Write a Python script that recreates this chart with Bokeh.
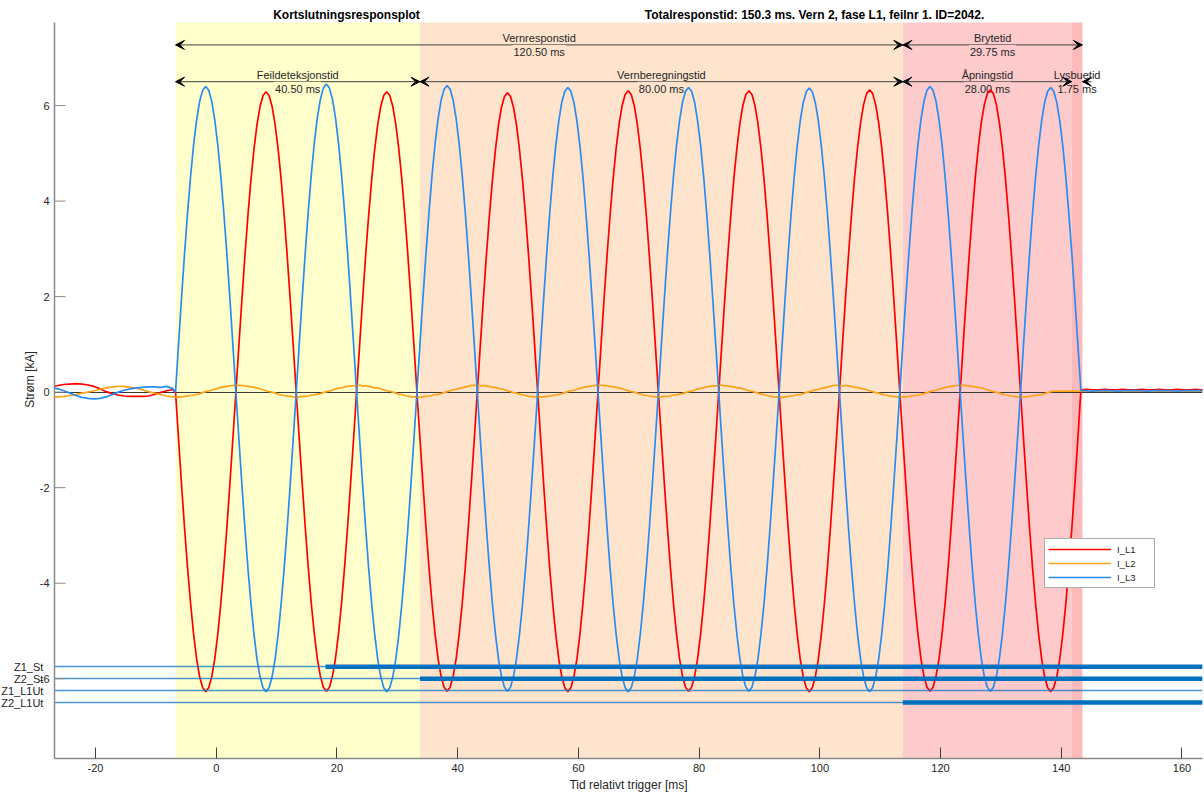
import numpy as np
from bokeh.plotting import figure
from bokeh.models import (ColumnDataSource, BoxAnnotation, Arrow, VeeHead, Label,
                          FixedTicker, Legend, LegendItem, Range1d, AllLabels)
from bokeh.embed import file_html
from bokeh.resources import INLINE

FONT = "Liberation Sans"

# ---------------- data ----------------
# pre-fault (1 ms sampling), fault (0.5 ms sampling), post-fault (1 ms sampling)
t_pre = [-26.8, -26.25, -25.25, -24.25, -23.25, -22.25, -21.25, -20.25, -19.25, -18.25, -17.25,
         -16.25, -15.25, -14.25, -13.25, -12.25, -11.25, -10.25, -9.25, -8.25, -7.25]
fault_start_ms = -6.75
fault_step_ms = 0.5
post_start_ms = 143.25
post_step_ms = 1.0

i_L1_pre = [0.13, 0.14, 0.16, 0.17, 0.18, 0.17, 0.15, 0.12, 0.07, 0.01, -0.03,
            -0.06, -0.08, -0.09, -0.09, -0.09, -0.08, -0.05, -0.01, 0.03, 0.05]
i_L1_fault = [
    0.00, -0.98, -1.94, -2.85, -3.69, -4.43, -5.07, -5.59, -5.96, -6.19, -6.27, -6.19, -5.96, -5.59, -5.07, -4.43, -3.69, -2.85, -1.94, -0.98,
    0.00, 0.98, 1.94, 2.86, 3.70, 4.45, 5.09, 5.60, 5.98, 6.21, 6.29, 6.21, 5.98, 5.60, 5.09, 4.45, 3.70, 2.86, 1.94, 0.98,
    0.00, -0.98, -1.93, -2.84, -3.68, -4.43, -5.06, -5.58, -5.95, -6.18, -6.26, -6.18, -5.95, -5.58, -5.06, -4.43, -3.68, -2.84, -1.93, -0.98,
    0.00, 0.98, 1.94, 2.86, 3.70, 4.45, 5.09, 5.60, 5.98, 6.21, 6.29, 6.21, 5.98, 5.60, 5.09, 4.45, 3.70, 2.86, 1.94, 0.98,
    0.00, -0.98, -1.93, -2.84, -3.68, -4.43, -5.06, -5.58, -5.95, -6.18, -6.26, -6.18, -5.95, -5.58, -5.06, -4.43, -3.68, -2.84, -1.93, -0.98,
    0.00, 0.98, 1.94, 2.85, 3.69, 4.43, 5.07, 5.59, 5.96, 6.19, 6.27, 6.19, 5.96, 5.59, 5.07, 4.43, 3.69, 2.85, 1.94, 0.98,
    0.00, -0.98, -1.94, -2.85, -3.69, -4.43, -5.07, -5.59, -5.96, -6.19, -6.27, -6.19, -5.96, -5.59, -5.07, -4.43, -3.69, -2.85, -1.94, -0.98,
    0.00, 0.98, 1.95, 2.86, 3.71, 4.46, 5.10, 5.62, 6.00, 6.23, 6.31, 6.23, 6.00, 5.62, 5.10, 4.46, 3.71, 2.86, 1.95, 0.98,
    0.00, -0.98, -1.93, -2.84, -3.68, -4.43, -5.06, -5.58, -5.95, -6.18, -6.26, -6.18, -5.95, -5.58, -5.06, -4.43, -3.68, -2.84, -1.93, -0.98,
    0.00, 0.98, 1.95, 2.86, 3.71, 4.46, 5.10, 5.62, 6.00, 6.23, 6.31, 6.23, 6.00, 5.62, 5.10, 4.46, 3.71, 2.86, 1.95, 0.98,
    0.00, -0.98, -1.94, -2.85, -3.69, -4.43, -5.07, -5.59, -5.96, -6.19, -6.27, -6.19, -5.96, -5.59, -5.07, -4.43, -3.69, -2.85, -1.94, -0.98,
    0.00, 0.99, 1.96, 2.87, 3.72, 4.48, 5.12, 5.64, 6.02, 6.25, 6.33, 6.25, 6.02, 5.64, 5.12, 4.48, 3.72, 2.87, 1.96, 0.99,
    0.00, -0.98, -1.93, -2.84, -3.68, -4.43, -5.06, -5.58, -5.95, -6.18, -6.26, -6.18, -5.95, -5.58, -5.06, -4.43, -3.68, -2.84, -1.93, -0.98,
    0.00, 0.99, 1.96, 2.87, 3.72, 4.48, 5.12, 5.64, 6.02, 6.25, 6.33, 6.25, 6.02, 5.64, 5.12, 4.48, 3.72, 2.87, 1.96, 0.99,
    0.00, -0.98, -1.94, -2.85, -3.69, -4.43, -5.07, -5.59, -5.96, -6.19, -6.27, -6.19, -5.96, -5.59, -5.07, -4.43, -3.69, -2.85, -1.94, -0.98,
]
i_L1_post = [0.05, 0.06, 0.05, 0.05, 0.06, 0.05, 0.05, 0.06, 0.05, 0.05, 0.06,
             0.05, 0.05, 0.06, 0.05, 0.05, 0.06, 0.05, 0.05, 0.06, 0.05, 0.05]

i_L2_pre = [-0.11, -0.10, -0.09, -0.07, -0.05, -0.02, 0.00, 0.03, 0.06, 0.09, 0.11,
            0.12, 0.12, 0.10, 0.08, 0.05, 0.01, -0.02, -0.05, -0.08, -0.10]
i_L2_fault = [
    -0.10, -0.10, -0.10, -0.09, -0.08, -0.07, -0.06, -0.05, -0.03, -0.01, 0.01, 0.03, 0.04, 0.06, 0.08, 0.10, 0.11, 0.12, 0.13, 0.14,
    0.14, 0.14, 0.14, 0.13, 0.12, 0.11, 0.10, 0.09, 0.07, 0.05, 0.03, 0.01, 0.00, -0.02, -0.04, -0.06, -0.07, -0.08, -0.09, -0.10,
    -0.11, -0.10, -0.09, -0.09, -0.08, -0.06, -0.06, -0.04, -0.03, -0.01, 0.01, 0.02, 0.04, 0.07, 0.08, 0.09, 0.11, 0.12, 0.13, 0.13,
    0.14, 0.15, 0.13, 0.13, 0.12, 0.11, 0.09, 0.09, 0.07, 0.05, 0.03, 0.02, 0.00, -0.02, -0.04, -0.05, -0.07, -0.08, -0.10, -0.10,
    -0.10, -0.11, -0.10, -0.09, -0.08, -0.07, -0.05, -0.05, -0.03, -0.01, 0.01, 0.03, 0.05, 0.06, 0.08, 0.09, 0.11, 0.12, 0.14, 0.14,
    0.14, 0.13, 0.14, 0.13, 0.12, 0.10, 0.10, 0.08, 0.07, 0.05, 0.03, 0.01, -0.01, -0.02, -0.04, -0.06, -0.07, -0.09, -0.09, -0.10,
    -0.10, -0.10, -0.10, -0.09, -0.08, -0.07, -0.06, -0.05, -0.03, -0.01, 0.01, 0.03, 0.04, 0.06, 0.08, 0.10, 0.11, 0.12, 0.13, 0.14,
    0.14, 0.14, 0.14, 0.13, 0.12, 0.11, 0.10, 0.09, 0.07, 0.05, 0.03, 0.01, 0.00, -0.02, -0.04, -0.06, -0.07, -0.08, -0.09, -0.10,
    -0.11, -0.10, -0.09, -0.09, -0.08, -0.06, -0.06, -0.04, -0.03, -0.01, 0.01, 0.02, 0.04, 0.07, 0.08, 0.09, 0.11, 0.12, 0.13, 0.13,
    0.14, 0.15, 0.13, 0.13, 0.12, 0.11, 0.09, 0.09, 0.07, 0.05, 0.03, 0.02, 0.00, -0.02, -0.04, -0.05, -0.07, -0.08, -0.10, -0.10,
    -0.10, -0.11, -0.10, -0.09, -0.08, -0.07, -0.05, -0.05, -0.03, -0.01, 0.01, 0.03, 0.05, 0.06, 0.08, 0.09, 0.11, 0.12, 0.14, 0.14,
    0.14, 0.13, 0.14, 0.13, 0.12, 0.10, 0.10, 0.08, 0.07, 0.05, 0.03, 0.01, -0.01, -0.02, -0.04, -0.06, -0.07, -0.09, -0.09, -0.10,
    -0.10, -0.10, -0.10, -0.09, -0.08, -0.07, -0.06, -0.05, -0.03, -0.01, 0.01, 0.03, 0.04, 0.06, 0.08, 0.10, 0.11, 0.12, 0.13, 0.14,
    0.14, 0.14, 0.14, 0.13, 0.12, 0.11, 0.10, 0.09, 0.07, 0.05, 0.03, 0.01, 0.00, -0.02, -0.04, -0.06, -0.07, -0.08, -0.09, -0.10,
    -0.10, -0.10, -0.10, -0.09, -0.08, -0.07, -0.06, -0.05, -0.03, -0.01, 0.01, 0.02, 0.02, 0.02, 0.02, 0.02, 0.02, 0.02, 0.02, 0.02,
]
i_L2_post = [0.02, 0.02, 0.02, 0.02, 0.02, 0.02, 0.02, 0.02, 0.02, 0.02, 0.02,
             0.02, 0.02, 0.02, 0.02, 0.02, 0.02, 0.02, 0.02, 0.02, 0.02, 0.02]

i_L3_pre = [0.09, 0.07, 0.03, -0.02, -0.07, -0.11, -0.13, -0.14, -0.13, -0.10, -0.05,
            0.00, 0.04, 0.07, 0.09, 0.10, 0.11, 0.11, 0.10, 0.12, 0.08]
i_L3_fault = [
    0.00, 1.00, 1.98, 2.91, 3.76, 4.52, 5.18, 5.70, 6.09, 6.32, 6.40, 6.32, 6.09, 5.70, 5.18, 4.52, 3.76, 2.91, 1.98, 1.00,
    0.00, -0.98, -1.94, -2.85, -3.69, -4.43, -5.07, -5.59, -5.96, -6.19, -6.27, -6.19, -5.96, -5.59, -5.07, -4.43, -3.69, -2.85, -1.94, -0.98,
    0.00, 1.01, 1.99, 2.93, 3.79, 4.56, 5.22, 5.75, 6.13, 6.37, 6.45, 6.37, 6.13, 5.75, 5.22, 4.56, 3.79, 2.93, 1.99, 1.01,
    0.00, -0.98, -1.94, -2.85, -3.69, -4.43, -5.07, -5.59, -5.96, -6.19, -6.27, -6.19, -5.96, -5.59, -5.07, -4.43, -3.69, -2.85, -1.94, -0.98,
    0.00, 1.00, 1.98, 2.91, 3.77, 4.54, 5.19, 5.72, 6.11, 6.34, 6.42, 6.34, 6.11, 5.72, 5.19, 4.54, 3.77, 2.91, 1.98, 1.00,
    0.00, -0.98, -1.93, -2.84, -3.68, -4.43, -5.06, -5.58, -5.95, -6.18, -6.26, -6.18, -5.95, -5.58, -5.06, -4.43, -3.68, -2.84, -1.93, -0.98,
    0.00, 1.00, 1.97, 2.90, 3.75, 4.51, 5.16, 5.68, 6.07, 6.30, 6.38, 6.30, 6.07, 5.68, 5.16, 4.51, 3.75, 2.90, 1.97, 1.00,
    0.00, -0.98, -1.94, -2.85, -3.69, -4.43, -5.07, -5.59, -5.96, -6.19, -6.27, -6.19, -5.96, -5.59, -5.07, -4.43, -3.69, -2.85, -1.94, -0.98,
    0.00, 1.00, 1.97, 2.90, 3.75, 4.51, 5.16, 5.68, 6.07, 6.30, 6.38, 6.30, 6.07, 5.68, 5.16, 4.51, 3.75, 2.90, 1.97, 1.00,
    0.00, -0.98, -1.93, -2.84, -3.68, -4.43, -5.06, -5.58, -5.95, -6.18, -6.26, -6.18, -5.95, -5.58, -5.06, -4.43, -3.68, -2.84, -1.93, -0.98,
    0.00, 0.99, 1.97, 2.89, 3.75, 4.50, 5.15, 5.68, 6.06, 6.29, 6.37, 6.29, 6.06, 5.68, 5.15, 4.50, 3.75, 2.89, 1.97, 0.99,
    0.00, -0.98, -1.94, -2.85, -3.69, -4.43, -5.07, -5.59, -5.96, -6.19, -6.27, -6.19, -5.96, -5.59, -5.07, -4.43, -3.69, -2.85, -1.94, -0.98,
    0.00, 1.00, 1.98, 2.91, 3.76, 4.52, 5.18, 5.70, 6.09, 6.32, 6.40, 6.32, 6.09, 5.70, 5.18, 4.52, 3.76, 2.91, 1.98, 1.00,
    0.00, -0.98, -1.93, -2.84, -3.68, -4.43, -5.06, -5.58, -5.95, -6.18, -6.26, -6.18, -5.95, -5.58, -5.06, -4.43, -3.68, -2.84, -1.93, -0.98,
    0.00, 1.00, 1.97, 2.90, 3.75, 4.51, 5.16, 5.68, 6.07, 6.30, 6.38, 6.30, 6.07, 5.68, 5.16, 4.51, 3.75, 2.90, 1.97, 1.00,
]
i_L3_post = [0.03, 0.03, 0.02, 0.03, 0.03, 0.03, 0.02, 0.03, 0.03, 0.03, 0.03,
             0.02, 0.03, 0.03, 0.03, 0.03, 0.02, 0.03, 0.03, 0.03, 0.03, 0.03]

series_names = ["I_L1", "I_L2", "I_L3"]
series_colors = ["#FF0000", "#FFA31A", "#2A8CF2"]

# time stages [ms]
stage_names = ["Feildeteksjonstid", "Vernberegningstid", "Åpningstid", "Lysbuetid"]
stage_ms = [40.50, 80.00, 28.00, 1.75]
group_names = ["Vernresponstid", "Brytetid"]
group_ms = [120.50, 29.75]
stage_colors = ["#FFFFCC", "#FEE4CC", "#FDCBCB", "#FCBABA"]

# binary signals
z_names = ["Z1_St", "Z2_St", "Z1_L1Ut", "Z2_L1Ut"]
z_level = [-5.75, -6.00, -6.25, -6.50]
z_on_ms = [18.1, 33.75, None, 113.75]

title_left = "Kortslutningsresponsplot"
title_right = "Totalresponstid: 150.3 ms. Vern 2, fase L1, feilnr 1. ID=2042."

x_ticks = [-20, 0, 20, 40, 60, 80, 100, 120, 140, 160]
x_tick_labels = ["-20", "0", "20", "40", "60", "80", "100", "120", "140", "160"]
y_ticks = [-6, -4, -2, 0, 2, 4, 6]
y_tick_labels = ["-6", "-4", "-2", "0", "2", "4", "6"]

x_min, x_max = -26.8, 163.4
y_min, y_axis_top = -7.67, 7.74

# ---------------- layout constants ----------------
W, H = 1204, 794
B_LEFT, B_RIGHT, B_BOTTOM = 54, 2, 35
AXES_TOP_PX = 22
frame_w = W - B_LEFT - B_RIGHT
frame_h = H - B_BOTTOM
px_per_y = (frame_h - AXES_TOP_PX) / (y_axis_top - y_min)
px_per_x = frame_w / (x_max - x_min)
y_frame_top = y_axis_top + AXES_TOP_PX / px_per_y

p = figure(width=W, height=H, output_backend="svg", toolbar_location=None,
           x_range=Range1d(x_min, x_max), y_range=Range1d(y_min, y_frame_top),
           min_border_left=B_LEFT, min_border_right=B_RIGHT, min_border_top=0,
           min_border_bottom=B_BOTTOM,
           background_fill_color="white", border_fill_color="white")
p.outline_line_color = None
p.grid.visible = False

# stage regions
bounds = [fault_start_ms] + list(fault_start_ms + np.cumsum(stage_ms))
for i in range(len(stage_ms)):
    p.add_layout(BoxAnnotation(left=bounds[i], right=bounds[i + 1], top=y_axis_top,
                               fill_color=stage_colors[i], fill_alpha=1.0, line_alpha=0,
                               level="underlay"))

# arrows and labels
gbounds = [fault_start_ms] + list(fault_start_ms + np.cumsum(group_ms))
row_y = {"group": 7.27, "stage": 6.50}
txt_dy = 7 / px_per_y
head_ms = 9 / px_per_x


def region_color(xc):
    for i in range(len(stage_ms)):
        if bounds[i] <= xc <= bounds[i + 1]:
            return stage_colors[i]
    return None


def head():
    return VeeHead(size=9, fill_color="black", line_color="black", line_width=1)


def add_span_arrow(x0, x1, y, name, dur):
    short = (x1 - x0) < 2 * head_ms
    if short:
        p.add_layout(Arrow(x_start=x1 + head_ms, y_start=y, x_end=x1, y_end=y, start=None,
                           end=head(), line_color="#404040", line_width=1, level="underlay"))
    else:
        p.add_layout(Arrow(x_start=x0, y_start=y, x_end=x1, y_end=y, start=head(), end=head(),
                           line_color="#404040", line_width=1, level="underlay"))
    xc = 0.5 * (x0 + x1)
    p.add_layout(Label(x=xc, y=y + txt_dy, text=name, text_align="center", text_baseline="middle",
                       text_font=FONT, text_font_size="11px", text_color="#262626",
                       level="underlay"))
    bg = None if short else region_color(xc)
    p.add_layout(Label(x=xc, y=y - txt_dy, text=f"{dur:.2f} ms", text_align="center",
                       text_baseline="middle", text_font=FONT, text_font_size="11px",
                       text_color="#262626", background_fill_color=bg,
                       background_fill_alpha=1.0 if bg else 0.0, padding=1, level="underlay"))


for i in range(len(group_ms)):
    add_span_arrow(gbounds[i], gbounds[i + 1], row_y["group"], group_names[i], group_ms[i])
for i in range(len(stage_ms)):
    add_span_arrow(bounds[i], bounds[i + 1], row_y["stage"], stage_names[i], stage_ms[i])

# zero line
p.hspan(y=[0], line_color="#3a3a3a", line_width=1)

# currents
t_fault = fault_start_ms + fault_step_ms * np.arange(len(i_L1_fault))
t_post = post_start_ms + post_step_ms * np.arange(len(i_L1_post))
time_ms = np.concatenate([t_pre, t_fault, t_post])
currents = [i_L1_pre + i_L1_fault + i_L1_post,
            i_L2_pre + i_L2_fault + i_L2_post,
            i_L3_pre + i_L3_fault + i_L3_post]
renderers = []
for name, col, vals in zip(series_names, series_colors, currents):
    src = ColumnDataSource(dict(t=time_ms, i=vals))
    r = p.line("t", "i", source=src, line_color=col, line_width=1.7)
    renderers.append(r)

# binary signal lines
p.hspan(y=z_level, line_color="#1F7BC8", line_alpha=0.8, line_width=1.4)
on_x = [x for x in z_on_ms if x is not None]
on_y = [y for x, y in zip(z_on_ms, z_level) if x is not None]
p.segment(x0=on_x, y0=on_y, x1=[x_max] * len(on_x), y1=on_y, line_color="#0070BF",
          line_width=4.5, line_cap="butt")

# inward y tick marks (only at numeric ticks)
tick_len = 11 / px_per_x
p.segment(x0=[x_min] * len(y_ticks), x1=[x_min + tick_len] * len(y_ticks), y0=y_ticks, y1=y_ticks,
          line_color="#8a8a8a", line_width=1)

# titles (inside the frame's top margin area)
title_y = y_axis_top + 7 / px_per_y
p.add_layout(Label(x=x_min + 292 / px_per_x, y=title_y, text=title_left, text_align="center",
                   text_baseline="middle", text_font=FONT, text_font_size="12px",
                   text_font_style="bold", text_color="black"))
p.add_layout(Label(x=x_min + 760 / px_per_x, y=title_y, text=title_right, text_align="center",
                   text_baseline="middle", text_font=FONT, text_font_size="12px",
                   text_font_style="bold", text_color="black"))

# axes
p.xaxis.ticker = FixedTicker(ticks=x_ticks)
p.xaxis.major_label_overrides = dict(zip(x_ticks, x_tick_labels))
z_tick_pos = [round(z + 0.002, 3) for z in z_level]
p.yaxis.ticker = FixedTicker(ticks=y_ticks + z_tick_pos)
overrides = dict(zip(y_ticks, y_tick_labels))
overrides.update({zp: n + "\u00a0\u00a0" for zp, n in zip(z_tick_pos, z_names)})
p.yaxis.major_label_overrides = overrides
p.yaxis.major_label_policy = AllLabels()
p.yaxis.bounds = (y_min, y_axis_top)
for ax in (p.xaxis, p.yaxis):
    ax.minor_tick_line_color = None
    ax.major_tick_in = 11
    ax.major_tick_out = 0
    ax.major_label_text_font = FONT
    ax.major_label_text_font_size = "11px"
    ax.major_label_text_color = "#262626"
    ax.axis_label_text_font = FONT
    ax.axis_label_text_font_size = "12px"
    ax.axis_label_text_font_style = "normal"
    ax.axis_label_text_color = "#262626"
    ax.axis_line_color = "#8a8a8a"
    ax.axis_line_width = 1.5
p.xaxis.major_tick_line_color = "#404040"
p.yaxis.major_tick_line_color = None
p.xaxis.axis_label = "Tid relativt trigger [ms]"
p.yaxis.axis_label = "Strøm [kA]"
p.xaxis.major_label_standoff = 5
p.xaxis.axis_label_standoff = 3
p.yaxis.major_label_standoff = 5
p.yaxis.axis_label_standoff = -39

# legend
legend = Legend(items=[LegendItem(label=n, renderers=[r]) for n, r in zip(series_names, renderers)],
                location=(990, 170), orientation="vertical",
                border_line_color="#5a5a5a", border_line_width=1,
                background_fill_color="white", background_fill_alpha=1.0,
                label_text_font=FONT, label_text_font_size="9.5px", label_text_color="#262626",
                glyph_width=63, glyph_height=14, label_height=14, label_width=34,
                padding=3, spacing=0, margin=0, label_standoff=6)
p.add_layout(legend)

open("out.html", "w").write(file_html(p, INLINE))
